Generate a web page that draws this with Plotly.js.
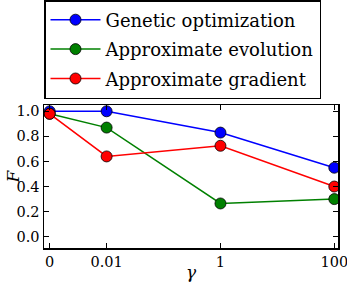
<!DOCTYPE html>
<html><head><meta charset="utf-8">
<script src="https://cdn.plot.ly/plotly-3.0.1.min.js"></script>
<style>html,body{margin:0;padding:0;background:#fff}#c{width:347px;height:284px}</style>
</head><body><div id="c"></div>
<script>
const gammaLabels = ["0", "0.01", "1", "100"];
const gammaValues = [0, 0.01, 1, 100];
const seriesNames = ["Genetic optimization", "Approximate evolution", "Approximate gradient"];
const genetic = [1.00, 1.00, 0.83, 0.55];
const approxEvolution = [0.98, 0.87, 0.265, 0.30];
const approxGradient = [0.98, 0.64, 0.725, 0.40];
const colors = ["#0000ff", "#008000", "#ff0000"];

// position on log axis; gamma = 0 is placed one decade left of 0.01
const xpos = gammaValues.map(g => g === 0 ? -3 : Math.log10(g));
const font = "DejaVu Serif, serif";

const data = [genetic, approxEvolution, approxGradient].map((ys, i) => ({
  x: xpos, y: ys, name: seriesNames[i], legendgroup: "g" + i,
  type: "scatter", mode: "lines+markers",
  line: {color: colors[i], width: 1.5},
  marker: {color: colors[i], size: 11, line: {color: "#000", width: 0.8}}
}));

const layout = {
  width: 347, height: 284,
  margin: {l: 44, r: 9, t: 105, b: 36, autoexpand: false},
  paper_bgcolor: "#fff", plot_bgcolor: "#fff",
  showlegend: true,
  legend: {
    xref: "container", yref: "container", x: 44/347, y: 1,
    xanchor: "left", yanchor: "top",
    bordercolor: "#000", borderwidth: 1.5, bgcolor: "#fff",
    font: {family: font, size: 18, color: "#000"},
    itemwidth: 50,
    tracegroupgap: 3
  },
  xaxis: {
    range: [-3.1, 2.065], tickvals: xpos, ticktext: gammaLabels,
    ticks: "inside", ticklen: 5, tickwidth: 1, tickcolor: "#000",
    showline: true, linecolor: "#000", linewidth: 1.5, mirror: "ticks",
    showgrid: false, zeroline: false, ticklabeloverflow: "allow",
    tickfont: {family: font, size: 14.5, color: "#000"}
  },
  yaxis: {
    range: [-0.09, 1.05], tickvals: [0, 0.2, 0.4, 0.6, 0.8, 1.0],
    ticktext: ["0.0", "0.2", "0.4", "0.6", "0.8", "1.0"],
    ticks: "inside", ticklen: 5, tickwidth: 1, tickcolor: "#000",
    showline: true, linecolor: "#000", linewidth: 1.5, mirror: "ticks",
    showgrid: false, zeroline: false,
    tickfont: {family: font, size: 14.5, color: "#000"}
  },
  annotations: [
    {text: "<i>γ</i>", xref: "paper", yref: "paper", x: 0.5, y: 0, yshift: -36,
     xanchor: "center", yanchor: "bottom", showarrow: false,
     font: {family: font, size: 17, color: "#000"}},
    {text: "<i>F</i>", xref: "paper", yref: "paper", x: 0, y: 0.5, xshift: -32,
     xanchor: "center", yanchor: "middle", showarrow: false, textangle: -90,
     font: {family: font, size: 17, color: "#000"}}
  ]
};
Plotly.newPlot("c", data, layout, {staticPlot: true, displayModeBar: false});
</script></body></html>
